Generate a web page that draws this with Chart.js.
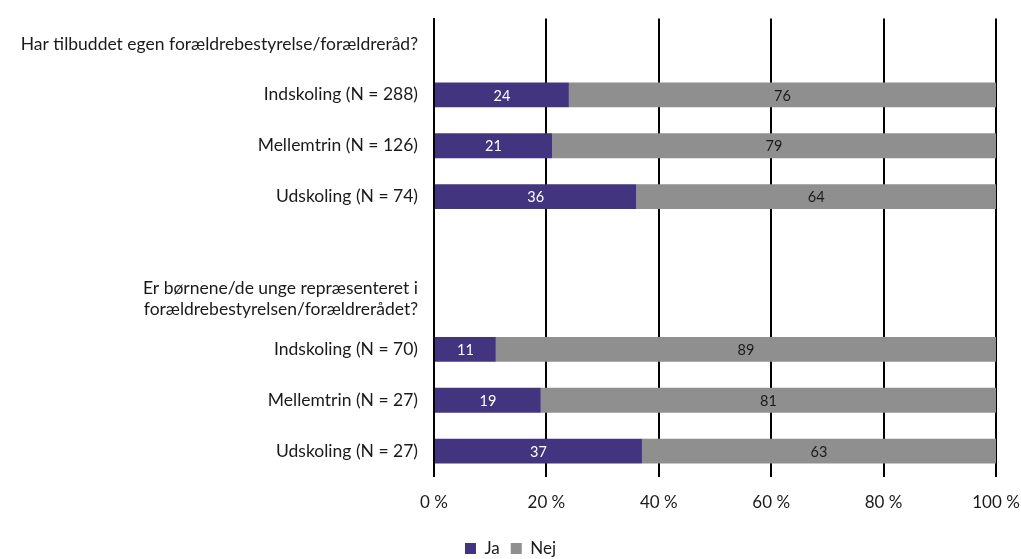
<!DOCTYPE html>
<html>
<head>
<meta charset="utf-8">
<script src="https://cdn.jsdelivr.net/npm/chart.js@4/dist/chart.umd.min.js"></script>
<style>
  html, body { margin: 0; padding: 0; background: #ffffff; }
  #wrap { width: 1021px; height: 559px; position: relative; }
</style>
</head>
<body>
<div id="wrap"><canvas id="chart"></canvas></div>
<script>
const categories = [
  'Har tilbuddet egen forældrebestyrelse/forældreråd?',
  'Indskoling (N = 288)',
  'Mellemtrin (N = 126)',
  'Udskoling (N = 74)',
  '',
  ['Er børnene/de unge repræsenteret i', 'forældrebestyrelsen/forældrerådet?'],
  'Indskoling (N = 70)',
  'Mellemtrin (N = 27)',
  'Udskoling (N = 27)'
];
const jaValues  = [null, 24, 21, 36, null, null, 11, 19, 37];
const nejValues = [null, 76, 79, 64, null, null, 89, 81, 63];
const xTicks = [0, 20, 40, 60, 80, 100];

const fontFamily = 'Lato, "Noto Sans", sans-serif';

// draw the value in the middle of each bar
const barLabels = {
  id: 'barLabels',
  afterDatasetsDraw(chart) {
    const ctx = chart.ctx;
    ctx.save();
    ctx.font = '14.5px ' + fontFamily;
    ctx.textAlign = 'center';
    ctx.textBaseline = 'middle';
    chart.data.datasets.forEach((ds, i) => {
      const meta = chart.getDatasetMeta(i);
      meta.data.forEach((bar, j) => {
        const v = ds.data[j];
        if (v == null) return;
        const p = bar.getProps(['x', 'y', 'base'], true);
        ctx.fillStyle = ds.labelColor;
        ctx.fillText(String(v), (p.x + p.base) / 2, p.y + 1);
      });
    });
    ctx.restore();
  }
};

new Chart(document.getElementById('chart'), {
  type: 'bar',
  data: {
    labels: categories,
    datasets: [
      {
        label: 'Ja',
        data: jaValues,
        backgroundColor: '#42347f',
        labelColor: '#ffffff',
        barPercentage: 0.98,
        categoryPercentage: 0.5
      },
      {
        label: 'Nej',
        data: nejValues,
        backgroundColor: '#8f8f8f',
        labelColor: '#1a1a1a',
        barPercentage: 0.98,
        categoryPercentage: 0.5
      }
    ]
  },
  options: {
    indexAxis: 'y',
    responsive: true,
    maintainAspectRatio: false,
    animation: false,
    layout: { padding: { top: 6, right: 0, left: 0, bottom: -8 } },
    plugins: {
      legend: {
        position: 'bottom',
        labels: {
          boxWidth: 11,
          boxHeight: 11,
          padding: 11,
          color: '#1a1a1a',
          font: { size: 17, family: fontFamily }
        }
      },
      tooltip: { enabled: false }
    },
    scales: {
      x: {
        stacked: true,
        min: 0,
        max: 100,
        afterBuildTicks: s => { s.ticks = xTicks.map(v => ({ value: v })); },
        afterFit: s => { s.paddingRight = 25; s.paddingLeft = 0; },
        grid: { color: '#000000', lineWidth: 2, drawTicks: false },
        border: { display: false },
        ticks: {
          padding: 16,
          color: '#1a1a1a',
          font: { size: 17, family: fontFamily },
          callback: v => v + ' %'
        }
      },
      y: {
        stacked: true,
        afterFit: s => { s.width = 434; },
        grid: { display: false },
        border: { color: '#000000', width: 2 },
        ticks: {
          padding: 8,
          color: '#1a1a1a',
          font: { size: 17.5, family: fontFamily }
        }
      }
    }
  },
  plugins: [barLabels]
});
</script>
</body>
</html>
